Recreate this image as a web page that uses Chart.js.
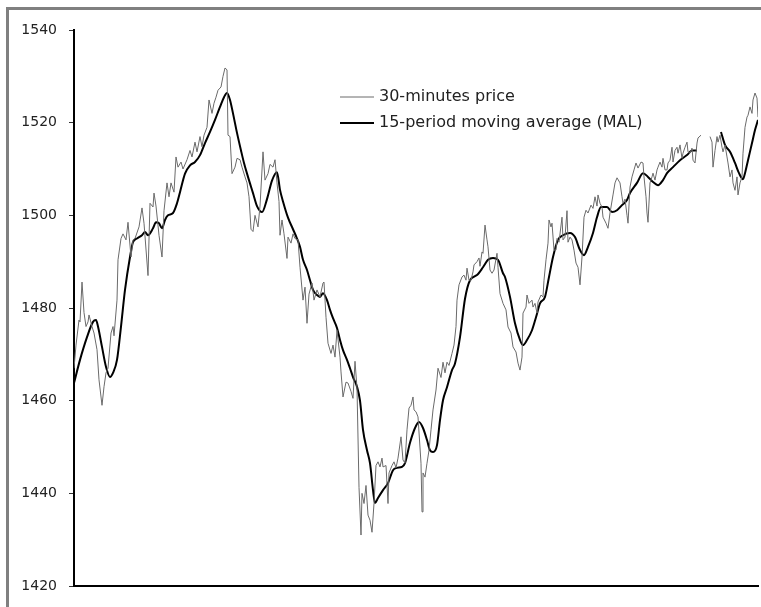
<!DOCTYPE html>
<html>
<head>
<meta charset="utf-8">
<script src="https://cdn.jsdelivr.net/npm/chart.js@4.4.0/dist/chart.umd.min.js"></script>
<style>
  html, body { margin: 0; padding: 0; background: #fff; overflow: hidden; }
  #wrap { position: relative; width: 761px; height: 607px; }
  #frame { position: absolute; left: 6px; top: 7px; width: 800px; height: 700px; border: 3px solid #808080; box-sizing: border-box; }
  #chart { position: absolute; left: 0; top: 0; }
</style>
</head>
<body>
<div id="wrap">
  <div id="frame"></div>
  <canvas id="chart" width="761" height="607"></canvas>
</div>
<script>
// y axis ticks
const yTicks = [1420, 1440, 1460, 1480, 1500, 1520, 1540];

// 30-minute price: bar number and price (null = gap in the data)
const priceTime = [
  0,1,2.5,3,4,5,6,7,7.5,9,
  10,11.5,12.5,14,15,16,17,18.5,19.5,20,
  21.5,22,23.5,24.5,26,27,28.5,29.5,30.5,32.5,
  34,35,37,38,39.5,40,41,42.5,44,45,
  46.5,47.5,48.5,50,51,52,53.5,54.5,56.5,58,
  59,60.5,61.5,63,64,65,66.5,67.5,69,70,
  71,72,73.5,74.5,75.5,76.5,77,78,79,80.5,
  81.5,83,84,85.5,86.5,87.5,88.5,89.5,90.5,92,
  93,94.5,95.5,97,98,99.5,100.5,101.5,102.5,103,
  104,105,106.5,107,108.5,109.5,110.5,112,113,114.5,
  115.5,116.5,117.5,119,120,121.5,123,124.5,125,126,
  127,128.5,129.5,130.5,131.5,133,133.5,134.5,136,137,
  138.5,139.5,140.5,141.5,142.5,143.5,144,145,146,147,
  148,149,150,151,152,153,154,154.5,156,157,
  157.5,159,160,161,162,163.5,164.5,165.5,166.5,167.5,
  168.5,169.5,170,171,172,173.5,174,174.5,175.5,176.5,
  177.5,178.5,179.5,181,182,183.5,184.5,185.5,186.5,187.5,
  189,190,191,191.5,192.5,194,195,196,196.5,197.5,
  198.5,199.5,200,201.5,202.5,203,204,204.5,205.5,206.5,
  207,208,209,210,211.5,212,213,214.5,216,217,
  218.5,219.5,221,222,223,224,224.5,226,226.5,227.5,
  229,229.5,230.5,231.5,232,233.5,234.5,235,236,237,
  237.5,238.5,239,240,241,241.5,242.5,244,244.5,245.5,
  246.5,247,248,249,250,251,252,253,254,255,
  256,257,258.5,259.5,260.5,261.5,262,263,264,264.5,
  266,267,268,269.5,270.5,271.5,273,274,274.5,275.5,
  276.5,277,278,279,280,281,282,283.5,284.5,285,
  286,286.5,287,288,289,289.5,290.5,291.5,292,293,
  294,294.5,295.5,296.5,297,298,299,299.5,300.5,301.5,
  302,303,304,304.5,305.5,306.5,307,308,309,309.5,
  310.5,311.5,312,313.5,316,318,319,319.5,320.5,321.5,
  322,323,324,324.5,325.5,326.5,327,328,329,329.5,
  330.5,331.5,332,333,334,334.5,335.5,336.5,337,338,
  339,339.5,340.5,341.5,342
];
const priceValue = [
  1467,1472,1477.4,1477,1485.6,1479,1476,1477,1478.5,1476,
  1474.6,1471,1464.5,1459,1463,1466,1467,1474.6,1476,1474,
  1481.7,1490.4,1495,1496,1494.7,1498.5,1491,1494.7,1495,1497.5,
  1501.6,1498.3,1487,1502.6,1501.8,1504.8,1502,1495.7,1491,1501,
  1507,1504,1507,1505,1512.6,1510.4,1511.5,1510,1512,1514,
  1512.6,1515.8,1513.7,1517,1514.8,1517.3,1519,1524.9,1522,1524.2,
  1525.5,1527,1527.7,1530,1531.8,1531.4,1517.3,1517,1509,1510.4,
  1512.3,1512,1510.4,1508.3,1507,1504,1497,1496.5,1500,1497.5,
  1502,1513.7,1507.6,1509,1511,1510.4,1512,1507,1503,1495.7,
  1499,1496,1490.7,1495.3,1494,1496,1495,1494.7,1488.8,1481.7,
  1484.5,1476.7,1483,1485.4,1481.7,1483.9,1482.4,1485.4,1485.6,1478,
  1472.4,1470.2,1472,1469.4,1475.2,1469.4,1466.2,1460.8,1464,1463.8,
  1462,1460.5,1468.5,1462.7,1441.3,1431,1440,1437.8,1441.7,1435.3,
  1434.2,1431.6,1437.8,1446,1446.8,1445.7,1447.6,1445.7,1446,1437.8,
  1444.4,1446,1446.8,1445.5,1447.6,1452.2,1447.2,1446.5,1453.7,1458.4,
  1459,1460.8,1458,1457.6,1456.5,1446.5,1436,1444.4,1443.5,1446.5,
  1449.3,1453.7,1458,1462.3,1467,1465,1468.3,1466,1468.3,1467.6,
  1470.2,1472,1476,1481.7,1485,1486.7,1487.1,1486,1488.6,1486,
  1486,1487.8,1489.3,1490,1490.8,1489,1492.1,1491.8,1497.9,1494.7,
  1493.2,1488.2,1487.5,1488.2,1491.8,1488.8,1483.1,1481,1479.6,1475.9,
  1474.6,1471.6,1470.5,1468.1,1466.6,1469.4,1478.9,1480.2,1482.8,1481,
  1481.7,1480.2,1481,1478.9,1481.3,1482.8,1482.4,1486,1490.4,1494,
  1499,1497.5,1498.3,1492.5,1492.5,1495,1494.2,1499.6,1494.7,1495.3,
  1501,1494.2,1495.3,1494.7,1492.5,1489.7,1488.8,1485,1491,1499.6,
  1501.1,1500.5,1502.2,1501.5,1504,1502,1504.4,1502.6,1501.8,1499.6,
  1498.3,1497.2,1500.5,1504.4,1507,1508.1,1507,1504,1502.6,1503.5,
  1500,1498.3,1506.1,1508.3,1509.8,1511.3,1510.2,1511.5,1511.3,1508.3,
  1504,1500.5,1498.5,1507,1508.3,1509.1,1507.6,1509.8,1510.4,1511.5,
  1510.4,1512.3,1509.8,1509.8,1511.3,1511.9,1514.7,1511.5,1514,1514.7,
  1513.4,1515.2,1512.3,1513.4,1514.7,1515.8,1513.7,1513.4,1514.5,1511.9,
  1511.3,1515.6,1516.7,1517.3,null,1517,1515.8,1510.4,1514,1517,
  1515.8,1517.3,1514.7,1513.7,1515.2,1512.6,1511.3,1508.3,1509.8,1507,
  1505.4,1508.3,1504.4,1507,1508.3,1513.4,1519,1521.2,1521.6,1523.4,
  1522,1524.9,1526.4,1525.3,1521.2
];

// 15-period moving average
const maTime = [
  0,3,6.5,9.5,11,12,14,16,18,19.5,
  21.5,23.5,25.5,28,29.5,31.5,34,35.5,37,39.5,
  41,42.5,44,45.5,47,49.5,51.5,53,55.5,58,
  60.5,63,65.5,68,70.5,73,75,76.5,78,79.5,
  81.5,83.5,85,87,89.5,91.5,94,96.5,99,101.5,
  103,104.5,107,109.5,111.5,113,114.5,116.5,118,119.5,
  121.5,123,124.5,126.5,128,129.5,131.5,133,134.5,136.5,
  138,139.5,141.5,143,144.5,146.5,148,149.5,150.5,152,
  154.5,157,159.5,161.5,164,165.5,168,170.5,172.5,174.5,
  176.5,178,179.5,181.5,183,184.5,186.5,189,190.5,193,
  195.5,198,201.5,204.5,207,209.5,212,214.5,215.5,218,
  220.5,223,224.5,226.5,229,231,233,235.5,237.5,239.5,
  242,244.5,248,250.5,253,255,257,259.5,261.5,263.5,
  266.5,269,271.5,274,276.5,278,281.5,284.5,287,289.5,
  292,294.5,296.5,299.5,303,306.5,309,311.5,316,323.5,
  325.5,328,330.5,332.5,334.5,335.5,337,339,340.5,342
];
const maValue = [
  1463.8,1468.8,1473.7,1477,1477.4,1476,1471.6,1467.3,1465.1,1466,
  1468.8,1476,1483.9,1491,1494.2,1495,1495.7,1496.4,1495.7,1497.2,
  1498.5,1498.3,1497.2,1499,1500,1500.5,1502.6,1505,1509,1510.8,
  1511.5,1513,1515.6,1518,1520.6,1523.4,1525.5,1526.4,1524.9,1522,
  1517.8,1514,1511.3,1508.3,1504.8,1502,1500.7,1503.5,1507.5,1509.3,
  1505.5,1503,1499.5,1497,1495,1493.2,1490.4,1488.2,1486,1483.9,
  1482.8,1482.4,1483.2,1481.7,1479.6,1477.8,1475.7,1473.1,1470.9,1468.8,
  1467,1465.1,1463,1460,1453.7,1449.3,1446.5,1440.7,1437.9,1439,
  1440.7,1442.2,1445,1445.5,1445.7,1446.5,1450.9,1454.1,1455.4,1454.1,
  1451.5,1449.3,1448.9,1450.4,1455.8,1460.1,1462.9,1466.6,1468,1473.7,
  1482,1486,1487.1,1488.8,1490.4,1490.8,1490.4,1487.5,1486.7,1482.4,
  1476.7,1473.1,1472,1473.1,1475.2,1478,1481,1482.4,1486.7,1491,
  1494.7,1495.7,1496.2,1495.3,1492.5,1491.4,1493.2,1496.2,1499.6,1501.8,
  1501.8,1500.7,1501.1,1502.2,1503.3,1504.8,1507,1509.1,1508.3,1507.2,
  1506.5,1507.6,1509.1,1510.4,1511.9,1513,1514,1514,null,1518,
  1515.2,1513.7,1511.3,1509.1,1507.8,1509.1,1511.9,1515.6,1518.4,1520.6
];

const priceData = priceTime.map((t, i) => ({ x: t, y: priceValue[i] }));
const maData = maTime.map((t, i) => ({ x: t, y: maValue[i] }));

// legend drawn inside the plot, like the original
const insideLegend = {
  id: 'insideLegend',
  afterDraw(chart, args, opts) {
    const c = chart.ctx;
    c.save();
    c.font = opts.font;
    c.textBaseline = 'middle';
    c.textAlign = 'left';
    chart.data.datasets.forEach((ds, i) => {
      const y = opts.top + i * opts.rowHeight;
      c.beginPath();
      c.strokeStyle = ds.borderColor;
      c.lineWidth = ds.borderWidth;
      c.moveTo(opts.left, y);
      c.lineTo(opts.left + opts.lineLength, y);
      c.stroke();
      c.fillStyle = opts.color;
      c.fillText(ds.label, opts.left + opts.lineLength + 5, y);
    });
    c.restore();
  }
};

const myChart = new Chart(document.getElementById('chart'), {
  type: 'line',
  data: {
    datasets: [
      {
        label: '30-minutes price',
        data: priceData,
        borderColor: '#6a6a6a',
        borderWidth: 1,
        pointRadius: 0,
        tension: 0,
        spanGaps: false
      },
      {
        label: '15-period moving average (MAL)',
        data: maData,
        borderColor: '#000000',
        borderWidth: 2,
        pointRadius: 0,
        tension: 0.4,
        cubicInterpolationMode: 'monotone',
        spanGaps: false
      }
    ]
  },
  options: {
    responsive: false,
    animation: false,
    events: [],
    layout: { padding: { left: 0, top: 30, right: 3, bottom: 21 } },
    plugins: {
      legend: { display: false },
      tooltip: { enabled: false },
      insideLegend: { left: 340, top: 97, rowHeight: 26, lineLength: 34, font: '16px "DejaVu Sans"', color: '#222' }
    },
    scales: {
      x: {
        type: 'linear',
        min: 0,
        max: 342,
        ticks: { display: false },
        grid: { display: false },
        border: { display: true, color: '#000', width: 2 },
        afterFit: s => { s.height = 0; }
      },
      y: {
        min: 1420,
        max: 1540,
        afterBuildTicks: s => { s.ticks = yTicks.map(v => ({ value: v })); },
        ticks: {
          font: { family: 'DejaVu Sans', size: 14 },
          color: '#222',
          padding: 12,
          callback: v => String(v)
        },
        grid: { display: true, drawOnChartArea: false, drawTicks: true, tickLength: 5, color: '#333', lineWidth: 1 },
        border: { display: true, color: '#000', width: 2 },
        afterFit: s => { s.width = 74; }
      }
    }
  },
  plugins: [insideLegend]
});
</script>
</body>
</html>
